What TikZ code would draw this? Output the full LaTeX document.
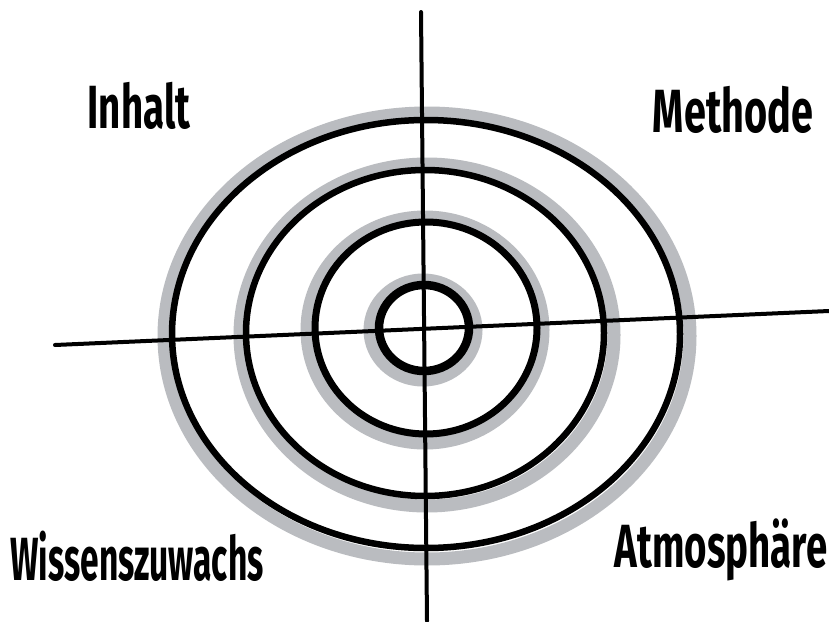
\documentclass[tikz,border=0pt]{standalone}
\usepackage{fontspec}
\setmainfont{Fira Sans}
\usepackage{graphicx}
\definecolor{shade}{RGB}{186,188,192}
\begin{document}
\begin{tikzpicture}[x=1pt,y=-1pt,
  ring/.style={draw=black,line width=6.5pt},
  shadow/.style={draw=shade,line width=13pt},
  axis/.style={draw=black,line width=4pt,line cap=round},
  lbl/.style={font=\fontsize{61}{66}\selectfont\bfseries,inner sep=0pt}]
\useasboundingbox (0,0) rectangle (829,621);
\fill[white] (0,0) rectangle (829,621);
% shadows
\draw[shadow] (427,336) ellipse [x radius=263pt, y radius=223pt];
\draw[shadow] (427,335) ellipse [x radius=187pt, y radius=171pt];
\draw[shadow] (425,330) ellipse [x radius=118pt, y radius=113pt];
\draw[shadow] (423,330) ellipse [x radius=53pt, y radius=50pt];
% rings
\draw[ring] (426,334) ellipse [x radius=254pt, y radius=214pt];
\draw[ring] (425,333) ellipse [x radius=179pt, y radius=163pt];
\draw[ring,line width=7pt] (426,328) ellipse [x radius=111pt, y radius=106pt];
\draw[ring,line width=8.5pt] (424,328) ellipse [x radius=45pt, y radius=43pt];
% axes
\coordinate (vt) at (421,12);
\coordinate (vb) at (427,621);
\coordinate (hl) at (55,345);
\coordinate (hr) at (829,311);
\draw[axis] (vt) -- (vb);
\draw[axis] (hl) -- (hr);
% labels
\node[lbl] (inhalt) at (139,106) {\scalebox{0.63}[1]{Inhalt}};
\node[lbl] (methode) at (733,110) {\scalebox{0.65}[1]{Methode}};
\node[lbl] (wissen) at (137,556) {\scalebox{0.55}[1]{Wissenszuwachs}};
\node[lbl] (atmo) at (721,550) {\scalebox{0.63}[1]{Atmosphäre}};
\end{tikzpicture}
\end{document}
